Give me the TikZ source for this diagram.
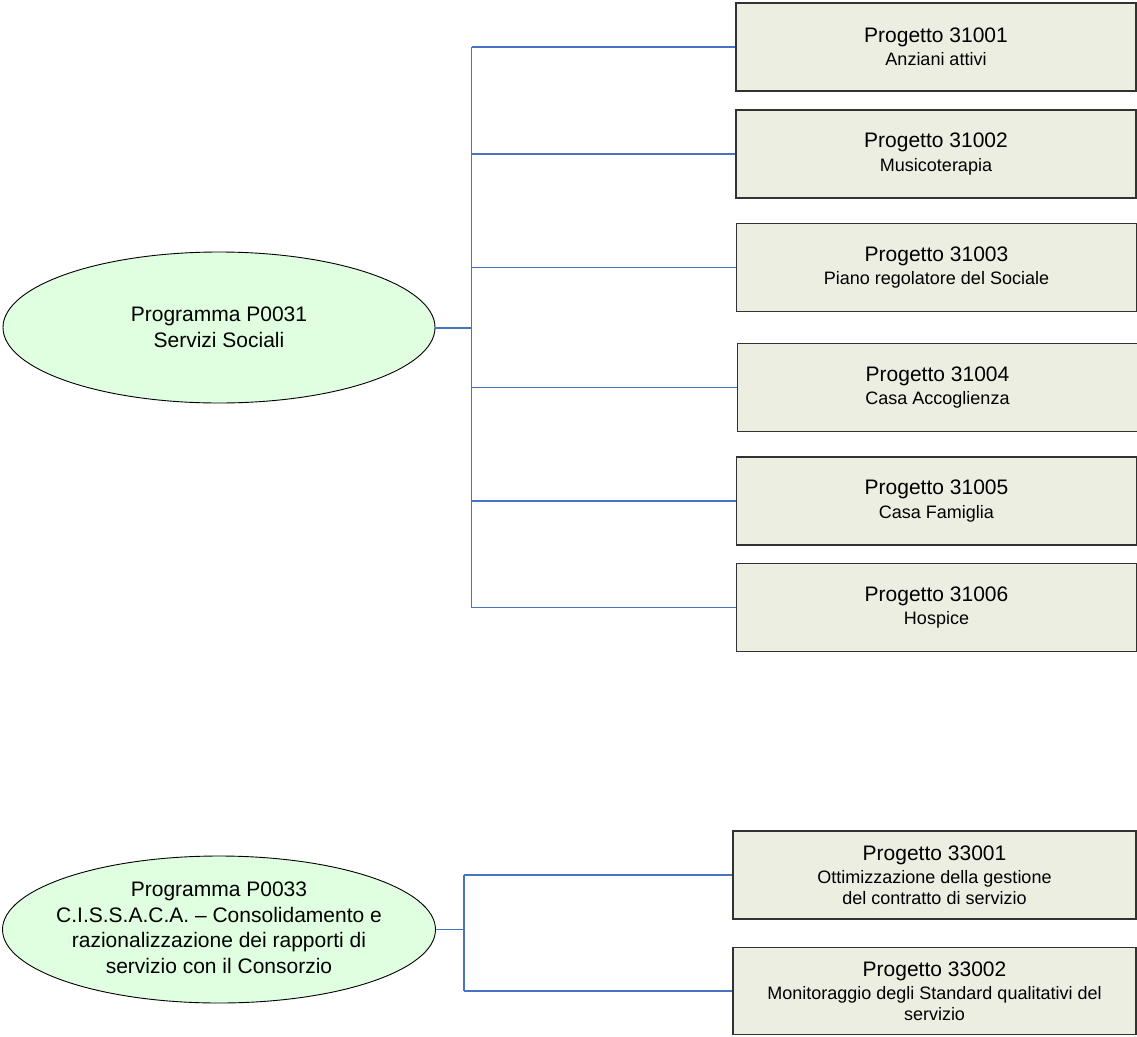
\documentclass[tikz,border=0pt]{standalone}
\usepackage{fontspec}
\setmainfont{Liberation Sans}
\usetikzlibrary{shapes.geometric}
\definecolor{boxfill}{RGB}{237,238,226}
\definecolor{ellfill}{RGB}{224,255,224}
\definecolor{linkblue}{RGB}{72,114,196}
\definecolor{boxline}{RGB}{50,50,50}
\newcommand{\sbt}{\fontsize{18}{21}\selectfont}
\tikzset{
  progbox/.style={draw=boxline, line width=1.3pt, fill=boxfill, rectangle,
    minimum width=400pt, minimum height=88pt, inner sep=0pt, align=center, text=black,
    font=\fontsize{21}{23.5}\selectfont},
  progell/.style={draw=black, line width=0.9pt, fill=ellfill, ellipse,
    minimum width=432pt, minimum height=151pt, inner sep=0pt},
  elltext/.style={align=center, text=black, inner sep=0pt, font=\fontsize{21}{25.5}\selectfont},
  link/.style={draw=linkblue, line width=1.1pt},
  mainlink/.style={draw=linkblue, line width=2pt},
}
\begin{document}
\begin{tikzpicture}[x=1pt,y=-1pt]
\useasboundingbox (0,0) rectangle (1137,1036);
% first group
\node[progell] (e1) at (219,327.5) {};
\node[elltext] (t1) at (e1.center) {Programma P0031\\Servizi Sociali};
\node[progbox] (b1) at (936,47) {Progetto 31001\\{\sbt Anziani attivi}};
\node[progbox] (b2) at (936,154) {Progetto 31002\\{\sbt Musicoterapia}};
\node[progbox] (b3) at (936.5,267.5) {Progetto 31003\\{\sbt Piano regolatore del Sociale}};
\node[progbox] (b4) at (937.5,387.5) {Progetto 31004\\{\sbt Casa Accoglienza}};
\node[progbox] (b5) at (936.5,501) {Progetto 31005\\{\sbt Casa Famiglia}};
\node[progbox] (b6) at (936.5,607.5) {Progetto 31006\\{\sbt Hospice}};
\coordinate (j1) at (471.5,327.5);
\draw[mainlink] (e1.east) -- (j1);
\draw[link] (j1 |- b1.west) -- (j1 |- b6.west);
\foreach \b in {b1,b2,b3,b4,b5,b6} \draw[link] (j1 |- \b.west) -- (\b.west);
% second group
\node[progell, minimum width=433pt, minimum height=147pt] (e2) at (219,929.5) {};
\node[elltext] (t2) at ([yshift=1.5pt]e2.center)
  {Programma P0033\\C.I.S.S.A.C.A. – Consolidamento e\\razionalizzazione dei rapporti di\\servizio con il Consorzio};
\node[progbox, minimum width=403pt] (b7) at (934.5,875)
  {Progetto 33001\\{\sbt Ottimizzazione della gestione}\\[-2.5pt]{\sbt del contratto di servizio}};
\node[progbox, minimum width=403pt, minimum height=87pt] (b8) at (934.5,991)
  {Progetto 33002\\{\sbt Monitoraggio degli Standard qualitativi del}\\[-2.5pt]{\sbt servizio}};
\coordinate (j2) at (464,929.5);
\draw[link] (e2.east) -- (j2);
\draw[link] (j2 |- b7.west) -- (j2 |- b8.west);
\foreach \b in {b7,b8} \draw[link] (j2 |- \b.west) -- (\b.west);
\end{tikzpicture}
\end{document}
